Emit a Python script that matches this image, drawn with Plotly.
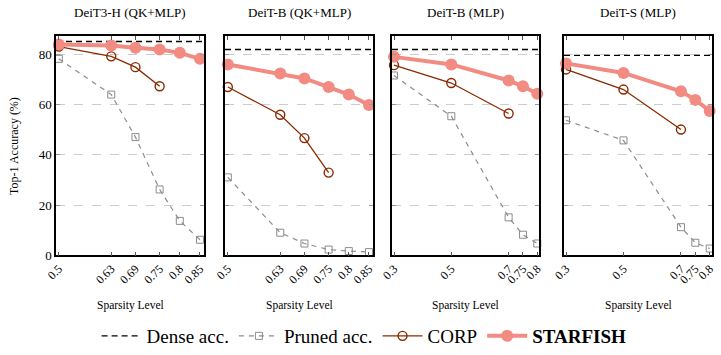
import plotly.graph_objects as go

titles = ["DeiT3-H (QK+MLP)", "DeiT-B (QK+MLP)", "DeiT-B (MLP)", "DeiT-S (MLP)"]

x_qk = [0.5, 0.63, 0.69, 0.75, 0.8, 0.85]
x_mlp = [0.3, 0.5, 0.7, 0.75, 0.8]

dense = [85.0, 81.8, 81.8, 79.5]

pruned_1 = [78.1, 63.9, 47.0, 26.2, 13.7, 6.2]
pruned_2 = [31.0, 9.0, 4.7, 2.3, 1.7, 1.3]
pruned_3 = [71.5, 55.3, 15.1, 8.2, 4.7]
pruned_4 = [53.7, 45.7, 11.2, 5.0, 2.7]

corp_x1 = [0.5, 0.63, 0.69, 0.75]
corp_1 = [83.0, 79.1, 74.8, 67.2]
corp_x2 = [0.5, 0.63, 0.69, 0.75]
corp_2 = [66.9, 55.9, 46.6, 32.9]
corp_x3 = [0.3, 0.5, 0.7]
corp_3 = [75.6, 68.5, 56.4]
corp_x4 = [0.3, 0.5, 0.7]
corp_4 = [73.9, 65.9, 50.0]

star_1 = [83.8, 83.4, 82.5, 81.8, 80.5, 78.1]
star_2 = [75.9, 72.3, 70.3, 66.9, 63.9, 59.8]
star_3 = [78.9, 75.9, 69.5, 67.2, 64.2]
star_4 = [76.3, 72.5, 65.2, 61.8, 57.4]

y_ticks = [0, 20, 40, 60, 80]

panels = [
    dict(x=x_qk, pr=pruned_1, cx=corp_x1, cy=corp_1, st=star_1, rng=[0.493, 0.86]),
    dict(x=x_qk, pr=pruned_2, cx=corp_x2, cy=corp_2, st=star_2, rng=[0.493, 0.86]),
    dict(x=x_mlp, pr=pruned_3, cx=corp_x3, cy=corp_3, st=star_3, rng=[0.293, 0.806]),
    dict(x=x_mlp, pr=pruned_4, cx=corp_x4, cy=corp_4, st=star_4, rng=[0.293, 0.808]),
]

W, H = 721, 355
px_x = [(56, 204), (225, 373), (392, 539), (564, 712)]
y_dom = [1 - 259 / H, 1 - 37 / H]

FONT = "Liberation Serif, Times New Roman, Times, serif"
C_CORP = "#8B2A00"
C_STAR = "#F28B82"
C_PR = "#8C8C8C"

fig = go.Figure()
for i, p in enumerate(panels):
    xa = "x" if i == 0 else f"x{i+1}"
    ya = "y" if i == 0 else f"y{i+1}"
    show = i == 0
    fig.add_trace(go.Scatter(x=p["rng"], y=[dense[i]] * 2, mode="lines",
                             line=dict(color="black", width=1.4, dash="6px,4px"),
                             name="Dense acc.", legendgroup="d", showlegend=show,
                             xaxis=xa, yaxis=ya))
    fig.add_trace(go.Scatter(x=p["x"], y=p["pr"], mode="lines+markers",
                             line=dict(color=C_PR, width=1.2, dash="5px,5px"),
                             marker=dict(symbol="square-open", size=7, color=C_PR, line=dict(width=1)),
                             name="Pruned acc.", legendgroup="p", showlegend=show,
                             cliponaxis=False, xaxis=xa, yaxis=ya))
    fig.add_trace(go.Scatter(x=p["cx"], y=p["cy"], mode="lines+markers",
                             line=dict(color=C_CORP, width=1.3),
                             marker=dict(symbol="circle-open", size=9, color=C_CORP, line=dict(width=1.4)),
                             name="CORP", legendgroup="c", showlegend=show,
                             cliponaxis=False, xaxis=xa, yaxis=ya))
    fig.add_trace(go.Scatter(x=p["x"], y=p["st"], mode="lines+markers",
                             line=dict(color=C_STAR, width=4),
                             marker=dict(symbol="circle", size=12, color=C_STAR),
                             name="<b>STARFISH</b>", legendgroup="s", showlegend=show,
                             cliponaxis=False, xaxis=xa, yaxis=ya))

    x0, x1 = px_x[i]
    xkey = "xaxis" if i == 0 else f"xaxis{i+1}"
    ykey = "yaxis" if i == 0 else f"yaxis{i+1}"
    fig.layout[xkey] = dict(
        domain=[x0 / W, x1 / W], anchor=ya, range=p["rng"], automargin=False,
        tickvals=p["x"], ticktext=[f"{v:g}" for v in p["x"]],
        tickangle=-45, ticks="inside", ticklen=4, tickcolor="#555",
        showline=True, linecolor="black", linewidth=1.5, mirror="allticks",
        showgrid=False, zeroline=False,
        tickfont=dict(family=FONT, size=12, color="black"))
    fig.layout[ykey] = dict(
        domain=y_dom, anchor=xa, range=[0, 87], automargin=False,
        tickvals=y_ticks, showticklabels=(i == 0),
        ticks="inside", ticklen=4, tickcolor="#999",
        showline=True, linecolor="black", linewidth=1.5, mirror="allticks",
        showgrid=True, gridcolor="#cccccc", griddash="dash", gridwidth=1,
        zeroline=False,
        tickfont=dict(family=FONT, size=13, color="black"))

    xc = (x0 + x1) / 2 / W
    fig.add_annotation(text=titles[i], x=xc, y=1 - 13 / H, xref="paper", yref="paper",
                       xanchor="center", yanchor="middle",
                       showarrow=False, font=dict(family=FONT, size=13, color="black"))
    fig.add_annotation(text="Sparsity Level", x=xc, y=1 - 310 / H, xref="paper", yref="paper",
                       xanchor="center", yanchor="middle",
                       showarrow=False, font=dict(family=FONT, size=11.5, color="black"))

fig.add_annotation(text="Top-1 Accuracy (%)", x=14 / W, y=(y_dom[0] + y_dom[1]) / 2,
                   xref="paper", yref="paper", textangle=-90, showarrow=False,
                   xanchor="center", yanchor="middle",
                   font=dict(family=FONT, size=12, color="black"))

fig.update_layout(
    width=W, height=H, margin=dict(l=0, r=0, t=0, b=0),
    plot_bgcolor="white", paper_bgcolor="white",
    legend=dict(orientation="h", x=0.505, xanchor="center", y=1 - 341 / H, yanchor="middle",
                font=dict(family=FONT, size=19, color="black"), itemwidth=40,
                tracegroupgap=0, bgcolor="rgba(0,0,0,0)"),
)

fig.write_html("out.html")
